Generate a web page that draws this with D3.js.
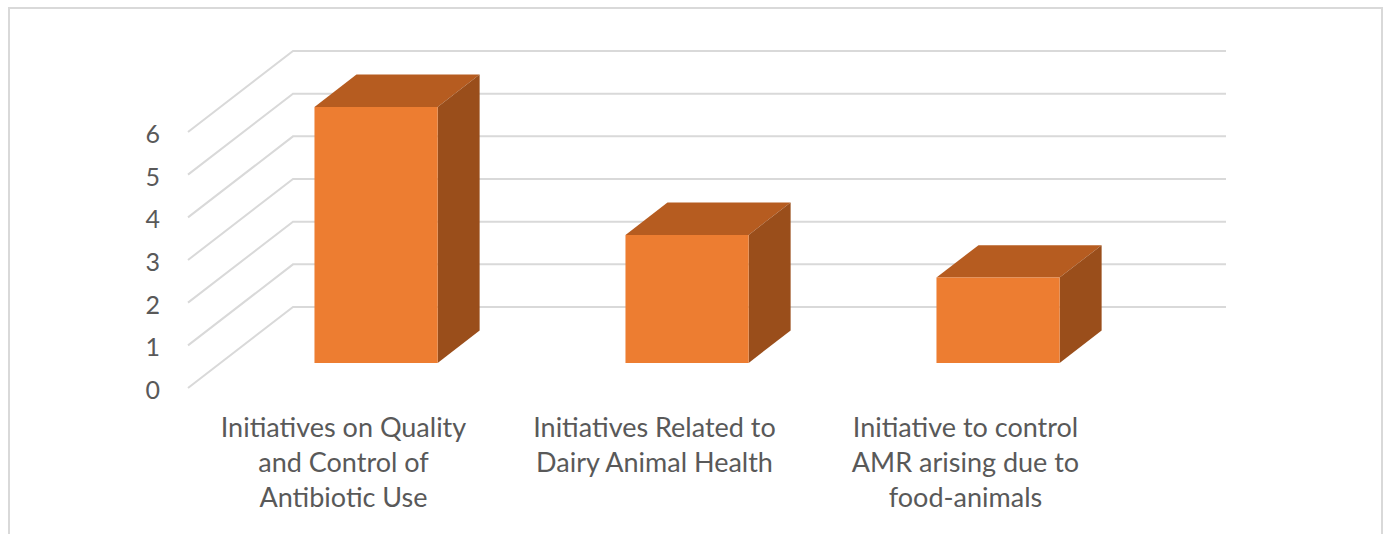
<!DOCTYPE html>
<html>
<head>
<meta charset="utf-8">
<script src="https://cdn.jsdelivr.net/npm/d3@7"></script>
<style>
  html, body { margin: 0; padding: 0; background: #fff; }
  svg { display: block; }
  text { font-family: Lato, "Open Sans", sans-serif; fill: #595959; }
</style>
</head>
<body>
<svg id="chart" width="1388" height="534"></svg>
<script>
// Chart data
const categories = [
  ["Initiatives on Quality", "and Control of", "Antibiotic Use"],
  ["Initiatives Related to", "Dairy Animal Health"],
  ["Initiative to control", "AMR arising due to", "food-animals"]
];
const values = [6, 3, 2];
const tickValues = [0, 1, 2, 3, 4, 5, 6];

const svg = d3.select("#chart");

// Outer chart frame
svg.append("rect")
  .attr("x", 9).attr("y", 8)
  .attr("width", 1373).attr("height", 540)
  .attr("fill", "#fff")
  .attr("stroke", "#d9d9d9").attr("stroke-width", 2);

// 3D projection: origin at front-left of the floor, depth vector towards the back wall
const origin = { x: 188, y: 388 };
const depthVec = { x: 105, y: -81 };
const plotWidth = 933;

const x = d3.scaleBand()
  .domain(d3.range(categories.length))
  .range([0, plotWidth])
  .paddingInner(0.604)
  .paddingOuter(0.302);

const y = d3.scaleLinear().domain([0, 6]).range([0, 256]);

// project (u along category axis, v value, d depth 0=front..1=back)
function P(u, v, d) {
  return [origin.x + u + depthVec.x * d, origin.y - y(v) + depthVec.y * d];
}

// Gridlines on side wall and back wall
const grid = svg.append("g");
tickValues.forEach(t => {
  const a = P(0, t, 0), b = P(0, t, 1), c = P(plotWidth, t, 1);
  grid.append("polyline")
    .attr("points", [a, b, c].map(p => p.join(",")).join(" "))
    .attr("fill", "none")
    .attr("stroke", "#d9d9d9")
    .attr("stroke-width", 2);
});

// Value axis labels
svg.append("g").selectAll("text")
  .data(tickValues)
  .join("text")
  .attr("x", d => P(0, d, 0)[0] - 28)
  .attr("y", d => P(0, d, 0)[1] + 1)
  .attr("text-anchor", "end")
  .attr("dominant-baseline", "central")
  .attr("font-size", 25)
  .text(d => d);

// Bars as boxes
const dFront = 0.31, dBack = 0.71;
const bars = svg.append("g");
const poly = pts => pts.map(p => p.join(",")).join(" ");
values.forEach((v, i) => {
  const u0 = x(i), u1 = x(i) + x.bandwidth();
  // top face
  bars.append("polygon")
    .attr("points", poly([P(u0, v, dFront), P(u1, v, dFront), P(u1, v, dBack), P(u0, v, dBack)]))
    .attr("fill", "#b65c20");
  // side face
  bars.append("polygon")
    .attr("points", poly([P(u1, 0, dFront), P(u1, v, dFront), P(u1, v, dBack), P(u1, 0, dBack)]))
    .attr("fill", "#9a4e1b");
  // front face
  bars.append("polygon")
    .attr("points", poly([P(u0, 0, dFront), P(u1, 0, dFront), P(u1, v, dFront), P(u0, v, dFront)]))
    .attr("fill", "#ed7d31");
});

// Category labels, centred on each band at the front edge of the floor
const labels = svg.append("g");
categories.forEach((lines, i) => {
  const cx = P(x(i) + x.bandwidth() / 2, 0, 0)[0];
  const tx = labels.append("text")
    .attr("text-anchor", "middle")
    .attr("font-size", 27);
  lines.forEach((ln, j) => {
    tx.append("tspan")
      .attr("x", cx)
      .attr("y", 437 + j * 35)
      .text(ln);
  });
});
</script>
</body>
</html>
